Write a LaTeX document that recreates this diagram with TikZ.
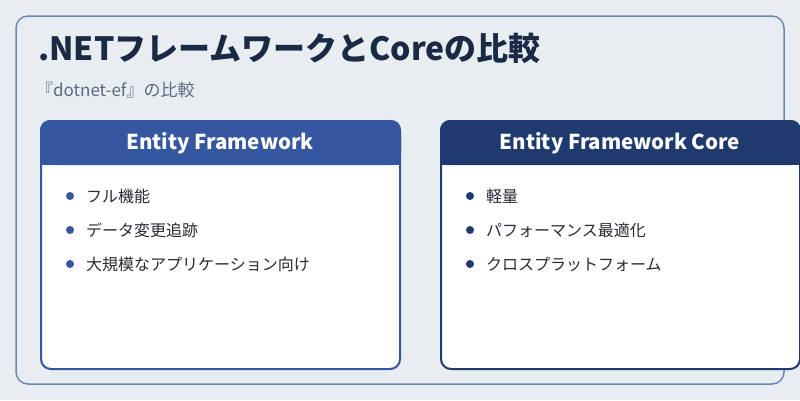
\documentclass[tikz,border=0pt]{standalone}
\usepackage{fontspec}
\setmainfont{Noto Sans CJK JP}
\definecolor{bg}{HTML}{E8EDF2}
\definecolor{frame}{HTML}{6F87B0}
\definecolor{lefthd}{HTML}{3557A0}
\definecolor{righthd}{HTML}{1E3A6E}
\definecolor{titlec}{HTML}{1A2A45}
\definecolor{subc}{HTML}{5A6A80}
\definecolor{itemc}{HTML}{2A2A33}
\begin{document}
\begin{tikzpicture}[x=1pt,y=-1pt,
  item/.style={anchor=west,font=\fontsize{16}{18}\selectfont,text=itemc,inner sep=0},
  hdtext/.style={font=\fontsize{20.5}{24}\selectfont\bfseries,text=white},
  bul/.style={circle,inner sep=0,minimum size=8}]
\useasboundingbox (0,0) rectangle (800,400);
\fill[bg] (0,0) rectangle (800,400);
\draw[frame,line width=1.5,rounded corners=12,fill=bg] (16,16) rectangle (784,384);
\node[anchor=west,font=\fontsize{32}{36}\selectfont\bfseries,text=titlec,inner sep=0] (title) at (38,48) {.NETフレームワークとCoreの比較};
\node[anchor=west,font=\fontsize{17}{20}\selectfont,text=subc,inner sep=0] (sub) at (36,90) {『dotnet-ef』の比較};
% left card
\draw[lefthd,line width=2,rounded corners=10,fill=white] (41,121) rectangle (400,369);
\fill[lefthd,rounded corners=10] (40,120) -- (40,165) -- (401,165) -- (401,120) -- cycle;
\fill[lefthd] (40,150) rectangle (401,165);
\node[hdtext] (lh) at (220,143) {Entity Framework};
\foreach \t/\y [count=\i] in {フル機能/196,データ変更追跡/230,大規模なアプリケーション向け/264}{
  \node[bul,fill=lefthd] (lb\i) at (70,\y) {};
  \node[item] (lt\i) at (86,\y) {\t};
}
% right card
\draw[righthd,line width=2,rounded corners=10,fill=white] (441,121) rectangle (800,369);
\fill[righthd,rounded corners=10] (440,120) -- (440,165) -- (801,165) -- (801,120) -- cycle;
\fill[righthd] (440,150) rectangle (801,165);
\node[hdtext] (rh) at (620,143) {Entity Framework Core};
\foreach \t/\y [count=\i] in {軽量/196,パフォーマンス最適化/230,クロスプラットフォーム/264}{
  \node[bul,fill=righthd] (rb\i) at (470,\y) {};
  \node[item] (rt\i) at (486,\y) {\t};
}
\end{tikzpicture}
\end{document}
